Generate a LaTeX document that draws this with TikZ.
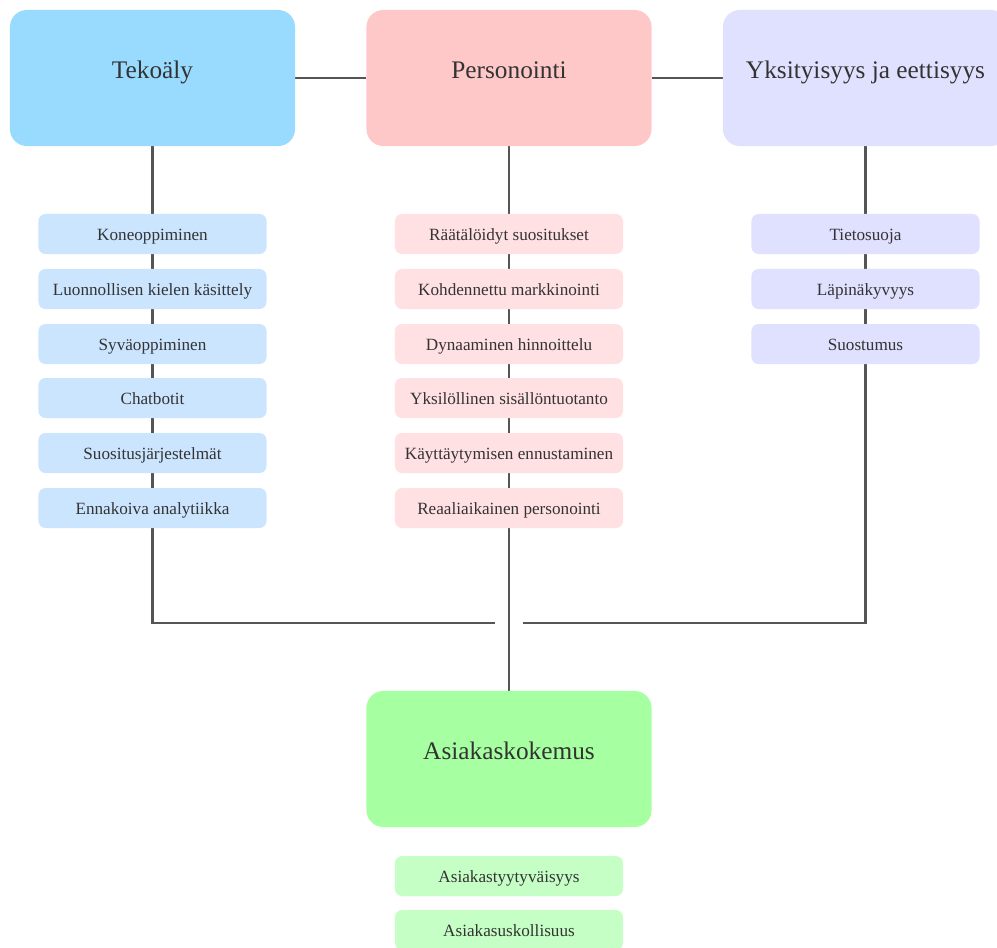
\documentclass[tikz,border=0pt]{standalone}
\usepackage{fontspec}
\setmainfont{Liberation Serif}
\usetikzlibrary{backgrounds}

\definecolor{teko}{HTML}{99DBFF}
\definecolor{tekosub}{HTML}{CCE5FF}
\definecolor{pers}{HTML}{FFC8C8}
\definecolor{perssub}{HTML}{FFE1E4}
\definecolor{yks}{HTML}{E0E0FF}
\definecolor{ykssub}{HTML}{E0E0FF}
\definecolor{asia}{HTML}{A6FFA0}
\definecolor{asiasub}{HTML}{C6FFC6}
\definecolor{teksti}{HTML}{333333}
\definecolor{viiva}{HTML}{555555}

\tikzset{
  paa/.style={rectangle,rounded corners=12pt,minimum width=7.125cm,minimum height=3.4cm,
    text=teksti,font=\fontsize{18}{21}\selectfont,text height=0.7em,text depth=0.6em},
  ala/.style={rectangle,rounded corners=5pt,minimum width=5.7cm,minimum height=1cm,
    text=teksti,font=\fontsize{12.2}{14}\selectfont,text height=0.9em,text depth=0pt},
  yhteys/.style={draw=viiva,line width=1.6pt}
}

\begin{document}
\begin{tikzpicture}[x=0.025cm,y=-0.025cm]
      \useasboundingbox (0,0) rectangle (997,947);
      \clip (0,0) rectangle (997,947);
      % Pääsolmut
      \node[paa,fill=teko] (teko) at (152.5,78) {Tekoäly};
      \node[paa,fill=pers] (pers) at (509,78)   {Personointi};
      \node[paa,fill=yks]  (yks)  at (865.5,78) {Yksityisyys ja eettisyys};
      \node[paa,fill=asia] (asia) at (509,759)  {Asiakaskokemus};
      % Tekoäly: alakohdat
      \node[ala,fill=tekosub] (t1) at (152.5,234) {Koneoppiminen};
      \node[ala,fill=tekosub] (t2) at (152.5,289) {Luonnollisen kielen käsittely};
      \node[ala,fill=tekosub] (t3) at (152.5,344) {Syväoppiminen};
      \node[ala,fill=tekosub] (t4) at (152.5,398) {Chatbotit};
      \node[ala,fill=tekosub] (t5) at (152.5,453) {Suositusjärjestelmät};
      \node[ala,fill=tekosub] (t6) at (152.5,508) {Ennakoiva analytiikka};
      % Personointi: alakohdat
      \node[ala,fill=perssub] (p1) at (509,234) {Räätälöidyt suositukset};
      \node[ala,fill=perssub] (p2) at (509,289) {Kohdennettu markkinointi};
      \node[ala,fill=perssub] (p3) at (509,344) {Dynaaminen hinnoittelu};
      \node[ala,fill=perssub] (p4) at (509,398) {Yksilöllinen sisällöntuotanto};
      \node[ala,fill=perssub] (p5) at (509,453) {Käyttäytymisen ennustaminen};
      \node[ala,fill=perssub] (p6) at (509,508) {Reaaliaikainen personointi};
      % Yksityisyys: alakohdat
      \node[ala,fill=ykssub] (y1) at (865.5,234) {Tietosuoja};
      \node[ala,fill=ykssub] (y2) at (865.5,289) {Läpinäkyvyys};
      \node[ala,fill=ykssub] (y3) at (865.5,344) {Suostumus};
      % Asiakaskokemus: alakohdat
      \node[ala,fill=asiasub] (a1) at (509,876) {Asiakastyytyväisyys};
      \node[ala,fill=asiasub] (a2) at (509,930) {Asiakasuskollisuus};
      % Kulmapisteet
      \coordinate (vk) at (152.5,623);
      \coordinate (vp) at (495,623);
      \coordinate (ok) at (865.5,623);
      \coordinate (op) at (523,623);
      % Yhteydet (taustalla)
      \begin{scope}[on background layer]
        \draw[yhteys] (teko) -- (pers);
        \draw[yhteys] (pers) -- (yks);
        \draw[yhteys] (teko.south) -- (vk) -- (vp);
        \draw[yhteys] (yks.south) -- (ok) -- (op);
        \draw[yhteys] (pers.south) -- (asia.north);
      \end{scope}
    \end{tikzpicture}
\end{document}
